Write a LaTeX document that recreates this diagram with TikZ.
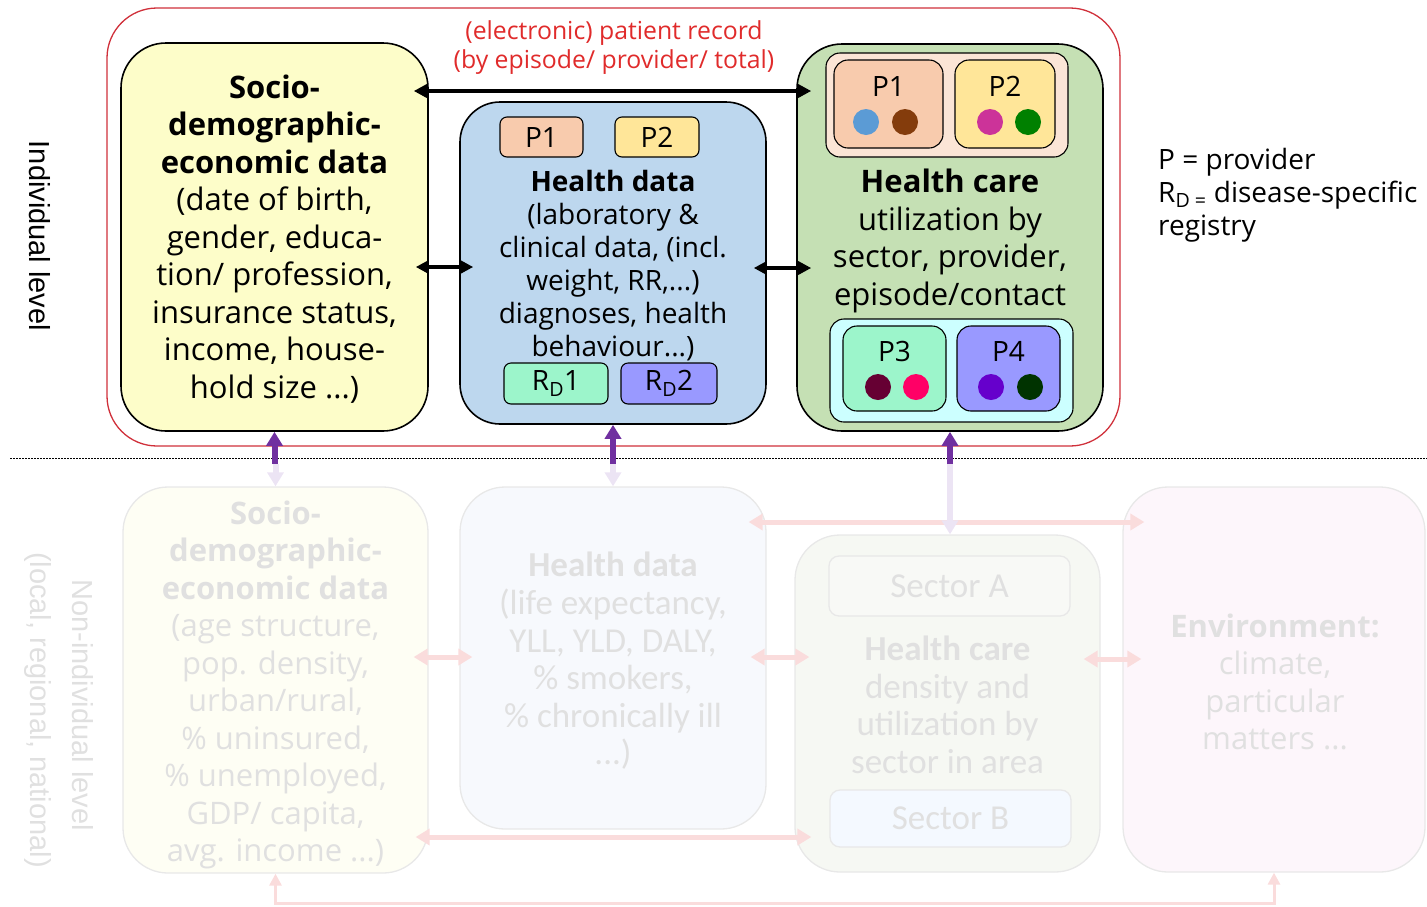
\documentclass[tikz,border=0pt]{standalone}
\usepackage{fontspec}
\setmainfont{Open Sans}
\newfontfamily\carl{Carlito}
\newfontfamily\libsans{Liberation Sans}
\usetikzlibrary{arrows.meta,calc}
\definecolor{redline}{HTML}{D0303A}
\definecolor{redtext}{HTML}{E02B2B}
\definecolor{sociofill}{HTML}{FDFDC9}
\definecolor{healthfill}{HTML}{BDD7EE}
\definecolor{carefill}{HTML}{C5E0B4}
\definecolor{peach}{HTML}{FBE5D6}
\definecolor{pone}{HTML}{F8CBAD}
\definecolor{ptwo}{HTML}{FFE699}
\definecolor{mint}{HTML}{9CF5CB}
\definecolor{peri}{HTML}{9999FF}
\definecolor{cyanlight}{HTML}{CCFFFF}
\definecolor{purplearr}{HTML}{7030A0}
\definecolor{lav}{HTML}{ECE4F4}
\definecolor{pinkc}{HTML}{FADCDC}
\definecolor{fadetext}{HTML}{E0E0E0}
\definecolor{fadeline}{HTML}{E8E8E8}
\definecolor{socioL}{HTML}{FEFEF4}
\definecolor{healthL}{HTML}{F7F9FD}
\definecolor{careL}{HTML}{F6F8F3}
\definecolor{envL}{HTML}{FDF6FB}
\definecolor{secA}{HTML}{F8F9F6}
\definecolor{secB}{HTML}{F4F9FF}
\definecolor{dblue}{HTML}{5B9BD5}
\definecolor{dbrown}{HTML}{843C0C}
\definecolor{dmag}{HTML}{CC3399}
\definecolor{dgreen}{HTML}{008000}
\definecolor{dmaroon}{HTML}{660033}
\definecolor{dpink}{HTML}{FF0066}
\definecolor{dviolet}{HTML}{6600CC}
\definecolor{ddkgreen}{HTML}{003300}
\newcommand\fbig{\fontsize{31}{37.5}\selectfont}
\newcommand\fmid{\fontsize{28}{33}\selectfont}
\newcommand\fred{\fontsize{24.8}{29}\selectfont}
\newcommand\fcarl{\carl\fontsize{35}{37.6}\selectfont}
\newcommand\fside{\libsans\fontsize{29}{33}\selectfont}
\tikzset{
  bigbox/.style={draw=black, line width=1.6pt, rounded corners=45pt, inner sep=0pt},
  smallbox/.style={draw=black, line width=1.1pt, rounded corners=7pt, inner sep=0pt},
  fadebox/.style={draw=fadeline, line width=1.3pt, rounded corners=45pt, inner sep=0pt},
  fadesmall/.style={draw=fadeline, line width=1.3pt, rounded corners=10pt, inner sep=0pt},
  blk/.style={line width=4pt, {Triangle[length=13pt,width=13pt]}-{Triangle[length=13pt,width=13pt]}},
  purp/.style={draw=purplearr, line width=6pt, -{Triangle[length=14pt,width=16pt]}},
  lavarr/.style={draw=lav, line width=6pt, -{Triangle[length=14pt,width=16pt]}},
  pinkarr/.style={draw=pinkc, line width=5pt, {Triangle[length=14pt,width=16pt]}-{Triangle[length=14pt,width=16pt]}},
  pinkloop/.style={draw=pinkc, line width=3pt, {Triangle[length=12pt,width=12pt]}-{Triangle[length=12pt,width=12pt]}},
  dot/.style={circle, inner sep=0pt, minimum size=26pt},
  txt/.style={align=center, inner sep=0pt},
  fadetxt/.style={align=center, inner sep=0pt, text=fadetext},
}
\begin{document}
\begin{tikzpicture}[x=1pt,y=-1pt]
\useasboundingbox (0,0) rectangle (1427,906);
% individual level frame
\node[draw=redline, line width=1.3pt, rounded corners=50pt, minimum width=1013pt, minimum height=438pt, inner sep=0pt] (indiv) at (613.5,227) {};
\draw[black, line width=0.7pt, dash pattern=on 2pt off 1pt] (10,458) -- (1427,458);
% upper boxes
\node[bigbox, fill=sociofill, minimum width=307pt, minimum height=388pt] (socio) at (274.5,237) {};
\node[bigbox, fill=healthfill, rounded corners=40pt, minimum width=306pt, minimum height=322pt] (health) at (613,263) {};
\node[bigbox, fill=carefill, minimum width=306pt, minimum height=387pt] (care) at (950,237.5) {};
% socio text
\node[txt, font=\fbig] (sociotxt) at (274.5,239) {\textbf{Socio-}\\\textbf{demographic-}\\\textbf{economic data}\\(date of birth,\\gender, educa-\\tion/ profession,\\insurance status,\\income, house-\\hold size ...)};
% health sub boxes
\node[smallbox, fill=pone, minimum width=83pt, minimum height=40pt, font=\fmid] (hp1) at (541.5,137) {P1};
\node[smallbox, fill=ptwo, minimum width=84pt, minimum height=40pt, font=\fmid] (hp2) at (657,137) {P2};
\node[smallbox, fill=mint, minimum width=104pt, minimum height=41pt, font=\fmid] (rd1) at (556,383.5) {R\textsubscript{D}1};
\node[smallbox, fill=peri, minimum width=96pt, minimum height=41pt, font=\fmid] (rd2) at (669,383.5) {R\textsubscript{D}2};
\node[txt, font=\fmid] (healthtxt) at (613,266) {\textbf{Health data}\\(laboratory \&\\clinical data, (incl.\\weight, RR,...)\\diagnoses, health\\behaviour...)};
% care sub boxes
\node[smallbox, fill=peach, rounded corners=14pt, minimum width=242pt, minimum height=104pt] (ctop) at (947,105) {};
\node[smallbox, fill=pone, rounded corners=14pt, minimum width=109pt, minimum height=88pt] (cp1) at (888.5,104) {};
\node[smallbox, fill=ptwo, rounded corners=14pt, minimum width=100pt, minimum height=88pt] (cp2) at (1005,104) {};
\node[txt, font=\fmid] (cp1l) at (888.5,86) {P1};
\node[txt, font=\fmid] (cp2l) at (1005,86) {P2};
\node[dot, fill=dblue] (d1) at (866,122) {};
\node[dot, fill=dbrown] (d2) at (905,122) {};
\node[dot, fill=dmag] (d3) at (990,122) {};
\node[dot, fill=dgreen] (d4) at (1028,122) {};
\node[smallbox, fill=cyanlight, rounded corners=14pt, minimum width=243pt, minimum height=103pt] (cbot) at (951.5,370.5) {};
\node[smallbox, fill=mint, rounded corners=14pt, minimum width=103pt, minimum height=85pt] (cp3) at (894.5,368.5) {};
\node[smallbox, fill=peri, rounded corners=14pt, minimum width=103pt, minimum height=85pt] (cp4) at (1008.5,368.5) {};
\node[txt, font=\fmid] (cp3l) at (894.5,351) {P3};
\node[txt, font=\fmid] (cp4l) at (1008.5,351) {P4};
\node[dot, fill=dmaroon] (d5) at (878,387) {};
\node[dot, fill=dpink] (d6) at (916,387) {};
\node[dot, fill=dviolet] (d7) at (991,387) {};
\node[dot, fill=ddkgreen] (d8) at (1030,387) {};
\node[txt, font=\fbig] (caretxt) at (950,241) {\textbf{Health care}\\utilization by\\sector, provider,\\episode/contact};
% red label
\node[txt, font=\fred, text=redtext] (record) at (614,48) {(electronic) patient record\\(by episode/ provider/ total)};
% legend
\node[align=left, inner sep=0pt, font=\fmid, anchor=west] (legend) at (1158,195) {P = provider\\R\textsubscript{D =} disease-specific\\registry};
% side labels
\node[rotate=-90, inner sep=0pt, font=\fside] (indlab) at (40,236) {Individual level};
\node[rotate=-90, inner sep=0pt, font=\fside, text=fadetext] (nonlab) at (83,705) {Non-individual level};
\node[rotate=-90, inner sep=0pt, font=\fside, text=fadetext] (loclab) at (38,710) {(local, regional, national)};
% black arrows
\draw[blk] ($(socio.east |- 0,91)+(-15,0)$) -- ($(care.west |- 0,91)+(15,0)$);
\draw[blk] ($(socio.east |- 0,267)+(-13,0)$) -- ($(health.west |- 0,267)+(14,0)$);
\draw[blk] ($(health.east |- 0,268)+(-13,0)$) -- ($(care.west |- 0,268)+(15,0)$);
% lower boxes
\node[fadebox, fill=socioL, minimum width=305pt, minimum height=386pt] (socioLow) at (275.5,680) {};
\node[fadebox, fill=healthL, minimum width=306pt, minimum height=342pt] (healthLow) at (613,658) {};
\node[fadebox, fill=careL, minimum width=305pt, minimum height=337pt] (careLow) at (947.5,703.5) {};
\node[fadebox, fill=envL, minimum width=302pt, minimum height=385pt] (envLow) at (1274,679.5) {};
\node[fadesmall, fill=secA, minimum width=241pt, minimum height=60pt, font=\fcarl, text=fadetext] (sectA) at (949.5,586) {Sector A};
\node[fadesmall, fill=secB, minimum width=241pt, minimum height=57pt, font=\fcarl, text=fadetext] (sectB) at (950.5,818.5) {Sector B};
\node[fadetxt, font=\fbig] (socioLtxt) at (275.5,685) {\textbf{Socio-}\\\textbf{demographic-}\\\textbf{economic data}\\(age structure,\\pop. density,\\urban/rural,\\\% uninsured,\\\% unemployed,\\GDP/ capita,\\avg. income ...)};
\node[fadetxt, font=\fcarl] (healthLtxt) at (613,661) {\textbf{Health data}\\(life expectancy,\\YLL, YLD, DALY,\\\% smokers,\\\% chronically ill\\...)};
\node[fadetxt, font=\fcarl] (careLtxt) at (947.5,705) {\textbf{Health care}\\density and\\utilization by\\sector in area};
\node[fadetxt, font=\fbig] (envLtxt) at (1275,682) {\textbf{Environment:}\\climate,\\particular\\matters ...};
% between-level arrows
\draw[lavarr] (socioLow.north |- 0,464) -- (socioLow.north);
\draw[lavarr] (healthLow.north |- 0,464) -- (healthLow.north);
\draw[pinkarr] ($(healthLow.east |- 0,522)+(-18,0)$) -- ($(envLow.west |- 0,522)+(22,0)$);
\draw[lavarr] (care.south |- 0,464) -- (care.south |- careLow.north);
\draw[purp] (socio.south |- 0,464) -- (socio.south);
\draw[purp] (health.south |- 0,464) -- (health.south);
\draw[purp] (care.south |- 0,464) -- (care.south);
% pink arrows
\draw[pinkarr] ($(socioLow.east |- 0,657)+(-15,0)$) -- ($(healthLow.west |- 0,657)+(13,0)$);
\draw[pinkarr] ($(healthLow.east |- 0,657)+(-16,0)$) -- ($(careLow.west |- 0,657)+(15,0)$);
\draw[pinkarr] ($(careLow.east |- 0,659)+(-17,0)$) -- ($(envLow.west |- 0,659)+(19,0)$);
\draw[pinkarr] ($(socioLow.east |- 0,837)+(-13,0)$) -- ($(careLow.west |- 0,837)+(17,0)$);
\draw[pinkloop] (socioLow.south) -- (socioLow.south |- 0,903) -| (envLow.south);
\end{tikzpicture}
\end{document}
